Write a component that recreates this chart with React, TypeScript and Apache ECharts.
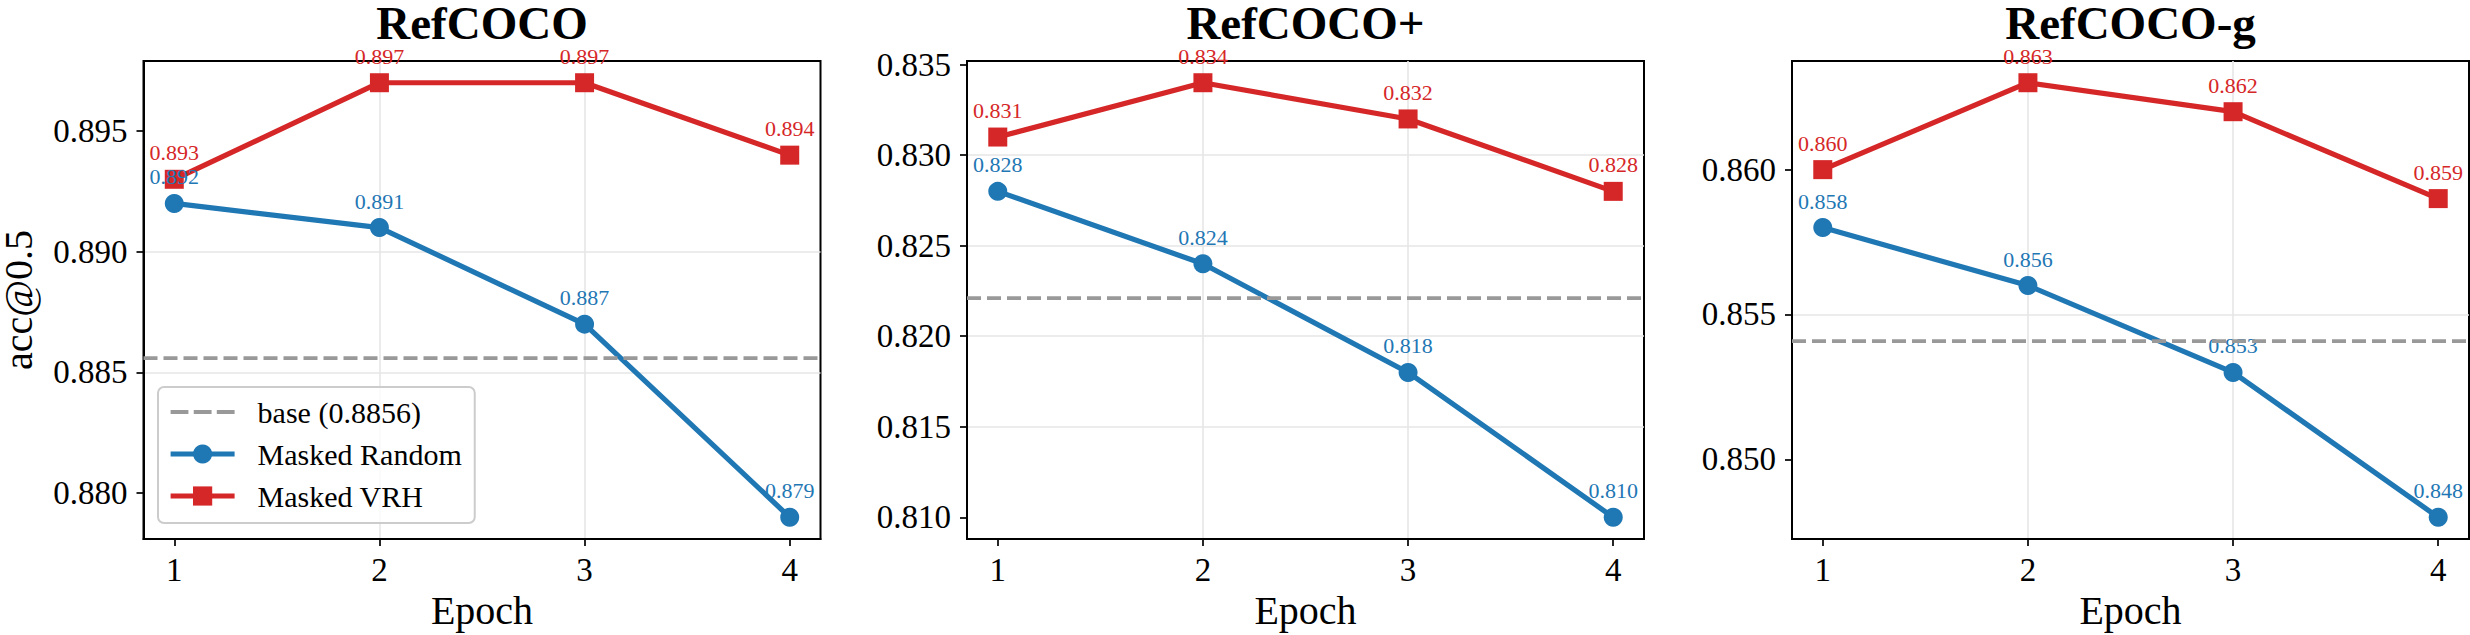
import React, { useEffect, useRef } from "react";
import * as echarts from "echarts";

// Epochs on the x axis
const epochs = [1, 2, 3, 4];

// Panel titles
const panelTitles = ["RefCOCO", "RefCOCO+", "RefCOCO-g"];

// acc@0.5 per epoch, Masked Random
const refcocoRandom = [0.892, 0.891, 0.887, 0.879];
const refcocoPlusRandom = [0.828, 0.824, 0.818, 0.81];
const refcocogRandom = [0.858, 0.856, 0.853, 0.848];

// acc@0.5 per epoch, Masked VRH
const refcocoVRH = [0.893, 0.897, 0.897, 0.894];
const refcocoPlusVRH = [0.831, 0.834, 0.832, 0.828];
const refcocogVRH = [0.86, 0.863, 0.862, 0.859];

// Baseline accuracy per dataset
const baseScores = [0.8856, 0.8221, 0.8541];

// Y tick labels per panel
const refcocoTicks = [0.88, 0.885, 0.89, 0.895];
const refcocoPlusTicks = [0.81, 0.815, 0.82, 0.825, 0.83, 0.835];
const refcocogTicks = [0.85, 0.855, 0.86];

const randomSeries = [refcocoRandom, refcocoPlusRandom, refcocogRandom];
const vrhSeries = [refcocoVRH, refcocoPlusVRH, refcocogVRH];
const yTickSets = [refcocoTicks, refcocoPlusTicks, refcocogTicks];

const FONT = '"Liberation Serif", "Times New Roman", serif';
const BLUE = "#1f77b4";
const RED = "#d62728";
const GRAY = "#999999";
const GRID_LINE = "#e6e6e6";

const GRID_LEFTS = [143.5, 967, 1792];
const GRID_TOP = 61;
const GRID_W = 677;
const GRID_H = 478;

// dashed legend glyph for the baseline
const DASH_ICON =
  "path://M0,0h16.7v3.8h-16.7z M21.7,0h16.7v3.8h-16.7z M43.3,0h16.7v3.8h-16.7z";

function buildOption() {
  const grids: any[] = [];
  const xAxes: any[] = [];
  const yAxes: any[] = [];
  const series: any[] = [];
  const graphics: any[] = [];

  panelTitles.forEach((title, i) => {
    const rnd = randomSeries[i];
    const vrh = vrhSeries[i];
    const all = rnd.concat(vrh);
    const lo = Math.min(...all);
    const hi = Math.max(...all);
    const pad = (hi - lo) * 0.05;

    grids.push({
      left: GRID_LEFTS[i],
      top: GRID_TOP,
      width: GRID_W,
      height: GRID_H,
      containLabel: false,
      outerBoundsMode: "none",
      show: true,
      borderColor: "#000",
      borderWidth: 2,
      backgroundColor: "transparent",
    });

    xAxes.push({
      type: "value",
      gridIndex: i,
      min: 0.85,
      max: 4.15,
      minInterval: 1,
      maxInterval: 1,
      name: "Epoch",
      nameLocation: "middle",
      nameGap: 51,
      nameTextStyle: { fontFamily: FONT, fontSize: 40, color: "#000", lineHeight: 40 },
      axisLine: { show: true, onZero: false, lineStyle: { color: "#000", width: 2 } },
      axisTick: { show: true, customValues: epochs, length: 7, lineStyle: { color: "#000", width: 1.7 } },
      axisLabel: {
        customValues: epochs,
        fontFamily: FONT,
        fontSize: 33,
        color: "#000",
        margin: 14,
        formatter: (v: number) => String(Math.round(v)),
      },
      splitLine: {
        show: true,
        showMinLine: false,
        showMaxLine: false,
        lineStyle: { color: GRID_LINE, width: 1.6 },
      },
    });

    yAxes.push({
      type: "value",
      gridIndex: i,
      min: lo - pad,
      max: hi + pad,
      minInterval: 0.005,
      maxInterval: 0.005,
      name: i === 0 ? "acc@0.5" : "",
      nameLocation: "middle",
      nameGap: 105,
      nameTextStyle: { fontFamily: FONT, fontSize: 40, color: "#000" },
      axisLine: { show: true, onZero: false, lineStyle: { color: "#000", width: 2 } },
      axisTick: { show: true, customValues: yTickSets[i], length: 7, lineStyle: { color: "#000", width: 1.7 } },
      axisLabel: {
        customValues: yTickSets[i],
        fontFamily: FONT,
        fontSize: 33,
        color: "#000",
        margin: 16,
        formatter: (v: number) => v.toFixed(3),
      },
      splitLine: {
        show: true,
        showMinLine: false,
        showMaxLine: false,
        lineStyle: { color: GRID_LINE, width: 1.6 },
      },
    });

    const dashStyle = { color: GRAY, width: 3.75, type: [14, 6] as number[] };
    series.push({
      type: "line",
      name: `base (${baseScores[i]})`,
      xAxisIndex: i,
      yAxisIndex: i,
      data: [],
      symbol: "none",
      lineStyle: dashStyle,
      itemStyle: { color: GRAY },
      silent: true,
      markLine: {
        silent: true,
        precision: 4,
        symbol: ["none", "none"],
        label: { show: false },
        lineStyle: dashStyle,
        emphasis: { disabled: true },
        data: [{ yAxis: baseScores[i] }],
      },
    });

    const lineSeries = (name: string, values: number[], color: string, symbol: string) => ({
      type: "line",
      name,
      xAxisIndex: i,
      yAxisIndex: i,
      data: epochs.map((e, j) => [e, values[j]]),
      symbol,
      symbolSize: 19,
      showAllSymbol: true,
      lineStyle: { color, width: 5.2 },
      itemStyle: { color },
      emphasis: { disabled: true },
      label: {
        show: true,
        position: "top",
        distance: 6,
        fontFamily: FONT,
        fontSize: 22,
        color,
        formatter: (p: any) => p.value[1].toFixed(3),
      },
    });

    series.push(lineSeries("Masked Random", rnd, BLUE, "circle"));
    series.push(lineSeries("Masked VRH", vrh, RED, "rect"));

    graphics.push({
      type: "text",
      x: GRID_LEFTS[i] + GRID_W / 2,
      y: 23,
      silent: true,
      style: {
        text: title,
        fontFamily: FONT,
        fontSize: 47,
        fontWeight: "bold",
        lineHeight: 36,
        fill: "#000",
        align: "center",
        verticalAlign: "middle",
      },
    });
  });

  return {
    animation: false,
    backgroundColor: "#ffffff",
    grid: grids,
    xAxis: xAxes,
    yAxis: yAxes,
    series,
    graphic: graphics,
    legend: {
      orient: "vertical",
      left: 158,
      top: 387,
      itemWidth: 64,
      itemHeight: 24,
      itemGap: 8,
      padding: [8, 13, 10, 10],
      backgroundColor: "rgba(255,255,255,0.8)",
      borderColor: "#cccccc",
      borderWidth: 2,
      borderRadius: 6,
      selectedMode: false,
      lineStyle: { width: 5.2 },
      textStyle: {
        fontFamily: FONT,
        fontSize: 30,
        color: "#000",
        lineHeight: 34,
        padding: [0, 0, 0, 18],
      },
      data: [
        { name: `base (${baseScores[0]})`, icon: DASH_ICON },
        "Masked Random",
        "Masked VRH",
      ],
    },
  };
}

export default function App() {
  const ref = useRef<HTMLDivElement>(null);

  useEffect(() => {
    if (!ref.current) return;
    const chart = echarts.init(ref.current, null, { renderer: "svg" });
    chart.setOption(buildOption() as any);
    return () => chart.dispose();
  }, []);

  return (
    <div
      ref={ref}
      style={{
        position: "absolute",
        left: 0,
        top: 0,
        width: 2470,
        height: 635,
        background: "#ffffff",
      }}
    />
  );
}
